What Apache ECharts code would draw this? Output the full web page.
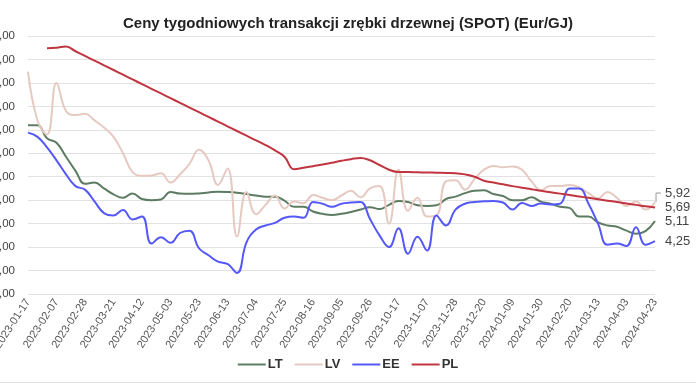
<!DOCTYPE html>
<html><head><meta charset="utf-8">
<script src="https://cdn.jsdelivr.net/npm/echarts@6/dist/echarts.min.js"></script>
<style>html,body{margin:0;padding:0;background:#fff}#c{width:696px;height:385px}</style>
</head><body><div id="c"></div>
<script>
const dates = [
 '2023-01-17','2023-01-24','2023-01-31','2023-02-07','2023-02-14','2023-02-21','2023-02-28','2023-03-07','2023-03-14','2023-03-21',
 '2023-03-28','2023-04-04','2023-04-12','2023-04-19','2023-04-26','2023-05-03','2023-05-10','2023-05-17','2023-05-23','2023-05-30',
 '2023-06-06','2023-06-13','2023-06-20','2023-06-27','2023-07-04','2023-07-11','2023-07-18','2023-07-25','2023-08-01','2023-08-08',
 '2023-08-16','2023-08-22','2023-08-29','2023-09-05','2023-09-12','2023-09-19','2023-09-26','2023-10-03','2023-10-10','2023-10-17',
 '2023-10-24','2023-10-31','2023-11-07','2023-11-14','2023-11-21','2023-11-28','2023-12-05','2023-12-12','2023-12-20','2023-12-27',
 '2024-01-02','2024-01-09','2024-01-16','2024-01-23','2024-01-30','2024-02-06','2024-02-13','2024-02-20','2024-02-27','2024-03-06',
 '2024-03-13','2024-03-20','2024-03-27','2024-04-03','2024-04-09','2024-04-16','2024-04-23'
];
const LT = [9.2,9.2,8.64,8.45,7.85,7.25,6.7,6.75,6.5,6.25,
 6.1,6.29,6.05,6.0,6.03,6.35,6.28,6.27,6.29,6.33,
 6.36,6.35,6.32,6.26,6.2,6.15,6.15,5.98,5.72,5.72,
 5.52,5.42,5.37,5.42,5.5,5.6,5.7,5.62,5.8,5.97,
 5.92,5.78,5.75,5.78,6.05,6.15,6.3,6.4,6.42,6.26,
 6.18,6.0,6.0,6.12,5.94,5.85,5.72,5.67,5.3,5.3,
 5.05,4.92,4.87,4.7,4.57,4.68,5.11];
const LV = [11.48,9.4,8.8,11.0,9.8,9.63,9.68,9.4,9.1,8.7,
 8.0,7.2,7.04,7.05,7.15,6.75,7.1,7.55,8.15,7.7,
 6.65,7.35,4.45,6.35,5.4,5.8,6.2,5.65,5.94,5.87,
 6.22,6.1,6.0,6.2,6.4,6.12,6.5,6.6,5.0,7.3,
 5.55,6.1,5.3,5.35,6.8,6.85,6.45,6.9,7.3,7.46,
 7.4,7.44,7.3,6.8,6.43,6.6,6.6,6.65,6.55,6.3,
 6.08,6.35,6.1,5.75,5.94,5.6,5.92];
const EE = [8.88,8.7,8.25,7.7,7.1,6.6,6.45,5.95,5.45,5.35,
 5.58,5.18,5.3,4.15,4.42,4.18,4.6,4.7,3.95,3.65,
 3.38,3.28,2.9,4.2,4.75,4.92,5.03,5.25,5.3,5.25,
 5.92,5.85,5.72,5.85,5.9,5.92,5.2,4.5,4.0,4.8,
 3.72,4.44,3.85,5.35,4.92,5.6,5.85,5.92,5.95,5.97,
 5.9,5.6,5.88,5.75,5.86,5.82,5.85,6.5,6.5,5.85,
 5.0,4.1,4.15,4.05,4.85,4.1,4.25];
const PL = [null,null,12.48,12.5,12.55,12.35,12.15,11.95,11.75,11.55,
 11.35,11.15,10.95,10.75,10.55,10.35,10.15,9.95,9.75,9.55,
 9.35,9.15,8.95,8.75,8.55,8.35,8.12,7.85,7.32,7.38,
 7.45,7.52,7.6,7.68,7.75,7.8,7.7,7.5,7.3,7.2,
 7.2,7.19,7.18,7.17,7.16,7.15,7.1,7.0,6.83,6.75,
 6.68,6.6,6.53,6.47,6.4,6.34,6.28,6.22,6.16,6.1,
 6.04,5.98,5.92,5.86,5.8,5.74,5.69];
const yTicks = {min: 2, max: 13, interval: 1};
const title = 'Ceny tygodniowych transakcji zrębki drzewnej (SPOT) (Eur/GJ)';
const names = ['LT','LV','EE','PL'];
const colors = ['#5d7c62','#e6cac2','#5558f8','#c13540'];
const fmt = v => Number(v).toFixed(2).replace('.', ',');

const chart = echarts.init(document.getElementById('c'));
const seriesData = [LT, LV, EE, PL];
chart.setOption({
  animation: false,
  backgroundColor: '#fff',
  textStyle: {fontFamily: 'Arial, Liberation Sans, sans-serif'},
  title: {text: title, left: 'center', top: 11,
    textStyle: {fontSize: 15, fontWeight: 'bold', color: '#222', fontFamily: 'Arial, Liberation Sans, sans-serif'}},
  legend: {data: names, bottom: 9, left: 'center', icon: 'rect', itemWidth: 28, itemHeight: 2, itemGap: 12,
    textStyle: {fontSize: 13, fontWeight: 'bold', color: '#333', padding: [0,0,0,-3]}},
  grid: {left: 28, right: 41, top: 36, bottom: 91, containLabel: false, outerBoundsMode: 'none'},
  xAxis: {type: 'category', data: dates, boundaryGap: false,
    axisLine: {show: false}, axisTick: {show: false},
    axisLabel: {interval: 2, rotate: 57, fontSize: 11, color: '#555', margin: 6}},
  yAxis: {type: 'value', min: yTicks.min, max: yTicks.max, interval: yTicks.interval,
    axisLabel: {formatter: fmt, fontSize: 11.5, color: '#444', margin: 13},
    splitLine: {lineStyle: {color: '#e2e2e2', width: 1}}},
  series: names.map((n, k) => ({
    name: n, type: 'line', data: seriesData[k], smooth: 0.45, showSymbol: false, symbol: 'none',
    connectNulls: false,
    lineStyle: {width: 2, color: colors[k]}, itemStyle: {color: colors[k]},
    endLabel: {show: true, formatter: p => fmt(p.value), fontSize: 13, color: '#444', distance: 10,
      offset: n === 'LV' ? [0, -9] : [0, 0]}
  }))
});
const last = dates.length - 1;
const p = chart.convertToPixel({gridIndex: 0}, [dates[last], LV[last]]);
chart.setOption({
  graphic: [
    {type: 'rect', shape: {x: 0, y: 382, width: 696, height: 1}, style: {fill: '#e0e0e0'}},
    {type: 'polyline', shape: {points: [[p[0] + 1, p[1]], [p[0] + 1, p[1] - 9], [p[0] + 6, p[1] - 9]]},
      style: {stroke: '#999', lineWidth: 1, fill: null}, z: 10}
  ]
});
</script></body></html>
